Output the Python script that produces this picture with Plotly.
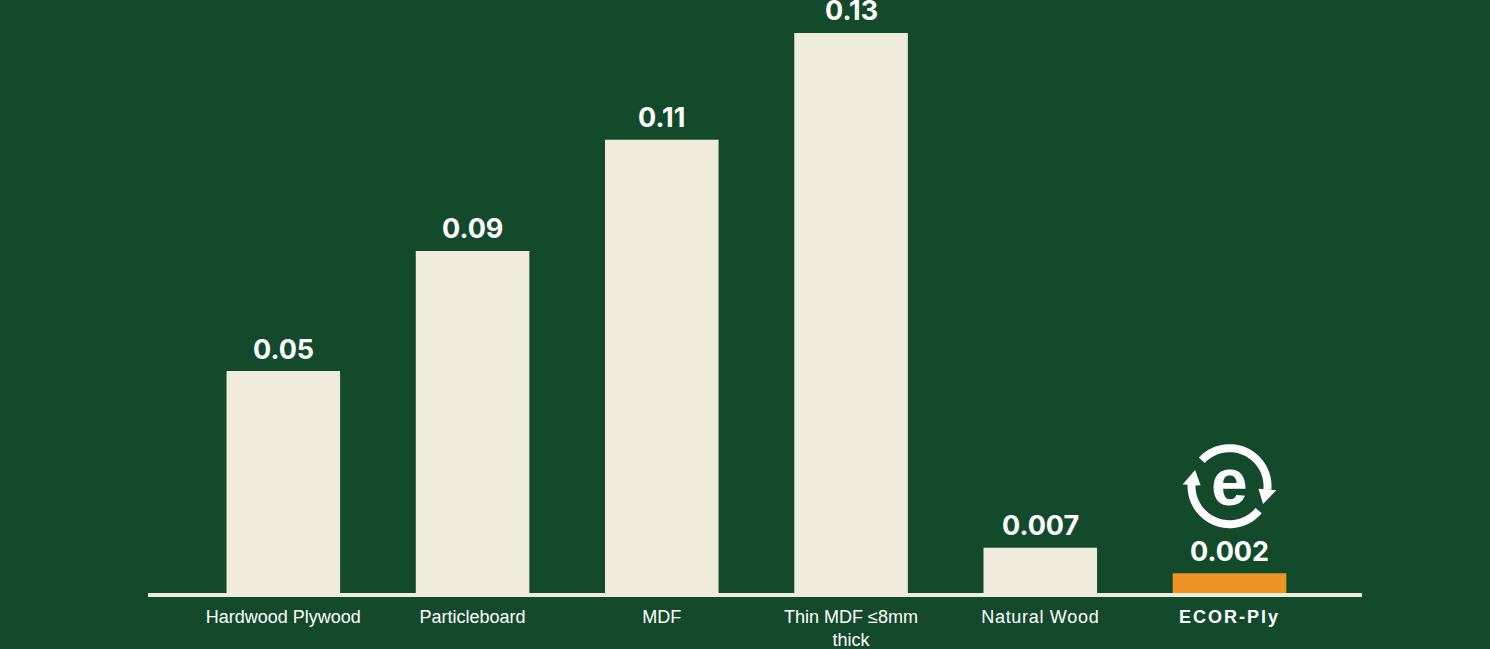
import numpy as np
import plotly.graph_objects as go

# data
materials = ["Hardwood Plywood", "Particleboard", "MDF", "Thin MDF ≤8mm thick",
             "Natural Wood", "ECOR-Ply"]
value_labels = ["0.05", "0.09", "0.11", "0.13", "0.007", "0.002"]
# bar lengths as they are drawn in the source graphic (not strictly to scale)
drawn_heights = [0.0515, 0.0794, 0.1052, 0.13, 0.0105, 0.0046]
tick_labels = [
    "Hardwood Plywood",
    "Particleboard",
    "MDF",
    "Thin MDF ≤8mm<br>thick",
    '<span style="letter-spacing:0.7px">Natural Wood</span>',
    '<span style="letter-spacing:2px"><b>ECOR-Ply</b></span>',
]

BG = "#144A2C"
CREAM = "#F0ECDC"
ORANGE = "#EE9424"

bar_colors = [CREAM] * (len(materials) - 1) + [ORANGE]

fig = go.Figure()
fig.add_trace(go.Bar(
    x=materials,
    y=drawn_heights,
    width=0.6,
    marker=dict(color=bar_colors, line=dict(width=0)),
    hoverinfo="skip",
))

# value labels above each bar
for m, h, lab in zip(materials, drawn_heights, value_labels):
    fig.add_annotation(
        x=m, y=h, text=f"<b>{lab}</b>", showarrow=False,
        yanchor="middle", yshift=22,
        font=dict(family="Inter", size=27, color="white"),
    )


# recycle-style "e" logo above the ECOR-Ply bar
def arc_band(a0, a1, r_in, r_out, cy, n=40):
    t = np.radians(np.linspace(a0, a1, n))
    outer = [(r_out * np.cos(a), cy + r_out * np.sin(a)) for a in t]
    inner = [(r_in * np.cos(a), cy + r_in * np.sin(a)) for a in t[::-1]]
    pts = outer + inner
    return "M " + " L ".join(f"{x:.2f},{y:.2f}" for x, y in pts) + " Z"


def arrow_head(a_base, a_tip, r_in, r_out, flare, cy):
    b = np.radians(a_base)
    t = np.radians(a_tip)
    rm = (r_in + r_out) / 2
    pts = [((r_in - flare) * np.cos(b), cy + (r_in - flare) * np.sin(b)),
           ((r_out + flare) * np.cos(b), cy + (r_out + flare) * np.sin(b)),
           (rm * np.cos(t), cy + rm * np.sin(t))]
    return "M " + " L ".join(f"{x:.2f},{y:.2f}" for x, y in pts) + " Z"


cy = 87
r_in, r_out = 34, 42
logo_path = " ".join([
    arc_band(137, -5, r_in, r_out, cy),
    arrow_head(-5, -28, r_in, r_out, 5, cy),
    arc_band(-40, -182, r_in, r_out, cy),
    arrow_head(-182, -205, r_in, r_out, 5, cy),
])
fig.add_shape(
    type="path", path=logo_path,
    xref="x", yref="y", xsizemode="pixel", ysizemode="pixel",
    xanchor=5, yanchor=drawn_heights[-1],
    fillcolor="white", line=dict(width=0),
)
fig.add_annotation(
    x=materials[-1], y=drawn_heights[-1], text="<b>e</b>", showarrow=False,
    yanchor="middle", yshift=91,
    font=dict(family="Liberation Sans", size=66, color="white"),
)

fig.update_layout(
    width=1490, height=649,
    margin=dict(l=148, r=128, t=20, b=56),
    plot_bgcolor=BG, paper_bgcolor=BG,
    showlegend=False,
    bargap=0.4,
)
fig.update_xaxes(
    range=[-0.715, 5.70], automargin=False,
    tickmode="array", tickvals=materials, ticktext=tick_labels,
    showline=True, linecolor=CREAM, linewidth=4,
    showgrid=False, zeroline=False, ticks="", ticklabelstandoff=4,
    tickfont=dict(family="Liberation Sans", size=18, color="white"),
)
fig.update_yaxes(
    range=[0, 0.133], visible=False, showgrid=False, zeroline=False,
    automargin=False,
)

# drop the page's default body margin so the figure fills the window
fig.write_html("out.html", config={"displayModeBar": False},
               post_script="document.body.style.margin='0';"
               "document.body.style.background='" + BG + "';")
